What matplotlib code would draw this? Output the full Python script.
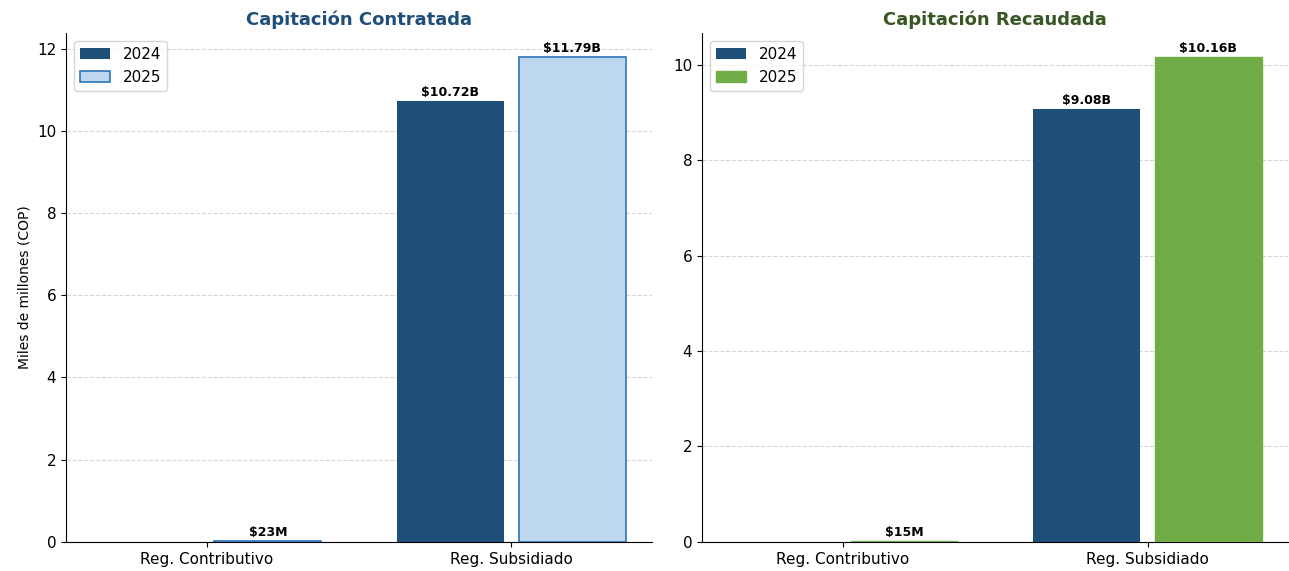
import numpy as np
import matplotlib.pyplot as plt

# Datos (miles de millones COP)
REGIMENES = ['Reg. Contributivo', 'Reg. Subsidiado']
ANIOS = ['2024', '2025']
CONTRATADA_2024 = [0.0, 10.72]
CONTRATADA_2025 = [0.023, 11.79]
RECAUDADA_2024 = [0.0, 9.08]
RECAUDADA_2025 = [0.015, 10.16]

AZUL = '#1F4E79'
AZUL_CLARO = '#BDD7EE'
AZUL_BORDE = '#2E75B6'
VERDE = '#70AD47'
VERDE_OSC = '#375623'


def etiqueta(v):
    if v >= 1:
        return '${:.2f}B'.format(v)
    return '${:.0f}M'.format(v * 1000)


def barras(ax, v24, v25, c25, e25, lw25, titulo, ctitulo):
    x = np.arange(len(REGIMENES))
    w = 0.35
    b1 = ax.bar(x - 0.2, v24, w, color=AZUL, linewidth=0, label=ANIOS[0], zorder=3)
    b2 = ax.bar(x + 0.2, v25, w, color=c25, edgecolor=e25, linewidth=lw25,
                label=ANIOS[1], zorder=3)
    for bars in (b1, b2):
        for r in bars:
            h = r.get_height()
            if h > 0:
                ax.annotate(etiqueta(h), (r.get_x() + r.get_width() / 2, h),
                            xytext=(0, 1.5), textcoords='offset points',
                            ha='center', va='bottom', fontsize=9, fontweight='bold')
    ax.set_xticks(x)
    ax.set_xticklabels(REGIMENES, fontsize=11)
    ax.tick_params(axis='y', labelsize=11)
    ax.set_title(titulo, fontsize=13, fontweight='bold', color=ctitulo)
    ax.yaxis.grid(True, linestyle='--', color='#cccccc', alpha=0.8, zorder=0)
    ax.set_axisbelow(True)
    ax.spines['top'].set_visible(False)
    ax.spines['right'].set_visible(False)
    ax.legend(loc='upper left', fontsize=11)


fig, (ax1, ax2) = plt.subplots(1, 2, figsize=(12.89, 5.71), dpi=100)
fig.subplots_adjust(left=0.0512, right=0.9995, bottom=0.051, top=0.942, wspace=0.085)

barras(ax1, CONTRATADA_2024, CONTRATADA_2025, AZUL_CLARO, AZUL_BORDE, 1.2,
       'Capitación Contratada', AZUL)
ax1.set_ylabel('Miles de millones (COP)', fontsize=10)

barras(ax2, RECAUDADA_2024, RECAUDADA_2025, VERDE, VERDE, 1.0,
       'Capitación Recaudada', VERDE_OSC)

fig.savefig('out.png', dpi=100)
